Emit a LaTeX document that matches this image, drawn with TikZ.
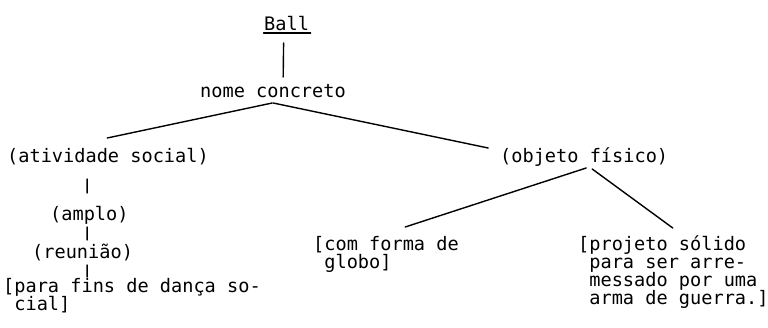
\documentclass[tikz,border=0pt]{standalone}
\usepackage{fontspec}
\newfontfamily\monofam{DejaVu Sans Mono}
\newcommand\txtfont{\monofam\fontsize{18.6}{18}\selectfont\lineskiplimit=-100pt\relax}
\begin{document}
\begin{tikzpicture}[x=1pt,y=1pt,
  lbl/.style={inner sep=0pt, font=\txtfont, anchor=base west},
  lbltwo/.style={lbl, align=left},
  edge/.style={line width=1.4pt, line cap=round}]
\useasboundingbox (0,0) rectangle (768,-327);
\node[lbl] (ball) at (264,-30) {Ball};
\node[lbl] (nome) at (200,-97) {nome concreto};
\node[lbl] (ativ) at (7,-162) {(atividade social)};
\node[lbl] (amplo) at (50,-220) {(amplo)};
\node[lbl] (reun) at (32,-258) {(reunião)};
% multi-line nodes: base = baseline of last line
\node[lbltwo] (para) at (3,-310) {[para fins de dança so-\\\phantom{[}cial]};
\node[lbl] (obj) at (500,-162) {(objeto físico)};
\node[lbltwo] (com) at (313,-268) {[com forma de\\\phantom{[}globo]};
\node[lbltwo] (proj) at (578,-304) {[projeto sólido\\\phantom{[}para ser arre-\\\phantom{[}messado por uma\\\phantom{[}arma de guerra.]};
% underline
\draw[edge] ([xshift=-23pt,yshift=-3pt]ball.base) -- ([xshift=24pt,yshift=-3pt]ball.base);
% connectors
\draw[edge] ([xshift=-3pt,yshift=-13pt]ball.base) -- ([xshift=10.2pt,yshift=20pt]nome.base);
\draw[edge] ([xshift=-0.8pt,yshift=-6pt]nome.base) -- ([xshift=-0.8pt,yshift=24pt]ativ.base);
\draw[edge] ([xshift=0.2pt,yshift=-6pt]nome.base) -- ([xshift=-96pt,yshift=14pt]obj.base);
\draw[edge] ([xshift=-20.8pt,yshift=-17pt]ativ.base) -- ([xshift=-2.2pt,yshift=27pt]amplo.base);
\draw[edge] ([xshift=-2.2pt,yshift=-7pt]amplo.base) -- ([xshift=4.6pt,yshift=18pt]reun.base);
\draw[edge] ([xshift=4.6pt,yshift=-7pt]reun.base) -- ([xshift=-44.8pt,yshift=33pt]para.base);
\draw[edge] ([xshift=2pt,yshift=-6pt]obj.base) -- ([xshift=19.2pt,yshift=41pt]com.base);
\draw[edge] ([xshift=8pt,yshift=-7pt]obj.base) -- ([xshift=-0.6pt,yshift=76pt]proj.base);
\end{tikzpicture}
\end{document}
